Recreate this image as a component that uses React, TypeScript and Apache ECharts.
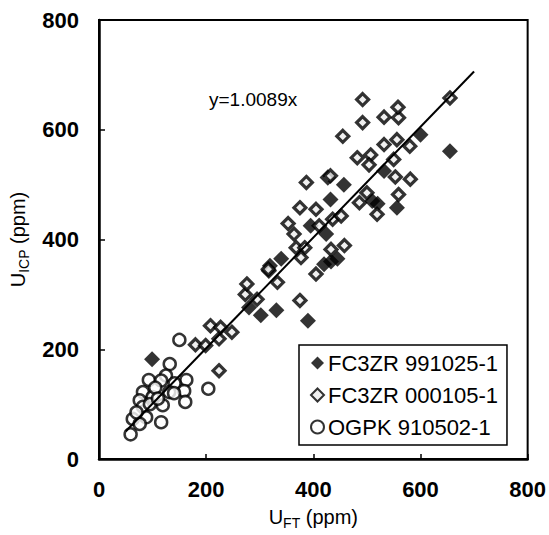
import React, { useEffect, useRef } from "react";
import * as echarts from "echarts";

const seriesNames = ["FC3ZR 991025-1", "FC3ZR 000105-1", "OGPK 910502-1"];

const fc3zr991025: number[][] = [
  [99, 182], [280, 276], [302, 262], [331, 271], [319, 352], [340, 365],
  [390, 252], [420, 355], [433, 360], [445, 365], [424, 410], [395, 425],
  [432, 473], [457, 500], [510, 470], [520, 465], [556, 458], [532, 525],
  [600, 591], [655, 561],
];

const fc3zr000105: number[][] = [
  [180, 208], [199, 207], [208, 243], [224, 219], [227, 240], [248, 231],
  [224, 161], [273, 300], [295, 291], [276, 319], [317, 343], [333, 322],
  [316, 346], [375, 289], [368, 385], [384, 385], [377, 367], [353, 429],
  [364, 410], [375, 458], [405, 455], [405, 337], [411, 425], [436, 437],
  [452, 443], [433, 382], [458, 389], [427, 513], [387, 504], [432, 516],
  [455, 588], [482, 549], [507, 554], [504, 536], [492, 655], [492, 613],
  [532, 623], [559, 622], [558, 641], [532, 573], [556, 582], [580, 570],
  [550, 546], [553, 514], [581, 510], [486, 467], [500, 485], [519, 446],
  [559, 482], [655, 658],
];

const ogpk910502: number[][] = [
  [150, 217], [132, 173], [125, 152], [93, 144], [163, 144], [116, 143],
  [141, 138], [204, 128], [159, 124], [131, 122], [82, 122], [100, 113],
  [76, 107], [161, 104], [119, 98], [82, 95], [63, 73], [116, 67],
  [88, 76], [76, 64], [59, 45], [105, 130], [95, 100], [110, 110],
  [140, 120], [70, 85],
];

const trendSlope = 1.0089;
const trendRange = [50, 700];
const trendLabel = "y=1.0089x";

const xTicks = [0, 200, 400, 600, 800];

const FONT = "'Liberation Sans', Arial, sans-serif";

export default function App() {
  const ref = useRef<HTMLDivElement>(null);
  useEffect(() => {
    if (!ref.current) return;
    const chart = echarts.init(ref.current, null, { renderer: "svg" });
    const trendData = trendRange.map((x) => [x, trendSlope * x]);
    chart.setOption({
      animation: false,
      backgroundColor: "#fff",
      textStyle: { fontFamily: FONT, color: "#000" },
      grid: {
        left: 99,
        top: 20,
        width: 433,
        height: 442,
        show: true,
        borderColor: "#000",
        borderWidth: 2,
        backgroundColor: "transparent",
      },
      xAxis: {
        type: "value",
        min: xTicks[0],
        max: xTicks[xTicks.length - 1],
        interval: 200,
        splitLine: { show: false },
        axisLine: { show: true, onZero: false, lineStyle: { color: "#000", width: 2.5 } },
        axisTick: { show: true, inside: true, length: 5, lineStyle: { color: "#000", width: 1.5 } },
        axisLabel: { color: "#000", fontSize: 22, fontWeight: "bold", fontFamily: FONT, margin: 19 },
        name: "{a|U}{b|FT}{a| (ppm)}",
        nameLocation: "middle",
        nameGap: 48,
        nameTextStyle: {
          rich: {
            a: { fontSize: 20, fontFamily: FONT, color: "#000", verticalAlign: "top" },
            b: { fontSize: 14, fontFamily: FONT, color: "#000", verticalAlign: "top", padding: [9, 0, 0, 0] },
          },
        },
      },
      yAxis: {
        type: "value",
        min: 0,
        max: 800,
        interval: 200,
        splitLine: { show: false },
        axisLine: { show: true, onZero: false, lineStyle: { color: "#000", width: 2.5 } },
        axisTick: { show: true, inside: true, length: 6, lineStyle: { color: "#000", width: 1.5 } },
        axisLabel: { color: "#000", fontSize: 22, fontWeight: "bold", fontFamily: FONT, margin: 20 },
        name: "{a|U}{b|ICP}{a| (ppm)}",
        nameLocation: "middle",
        nameGap: 66,
        nameRotate: 90,
        nameTextStyle: {
          rich: {
            a: { fontSize: 20, fontFamily: FONT, color: "#000", verticalAlign: "top" },
            b: { fontSize: 14, fontFamily: FONT, color: "#000", verticalAlign: "top", padding: [9, 0, 0, 0] },
          },
        },
      },
      legend: {
        data: seriesNames,
        orient: "vertical",
        left: 299,
        top: 345,
        borderColor: "#000",
        borderWidth: 1.5,
        padding: [7, 9, 7, 11],
        itemGap: 10,
        itemWidth: 13,
        itemHeight: 13,
        backgroundColor: "#fff",
        textStyle: { fontSize: 22, fontFamily: FONT, color: "#000", padding: [0, 0, 0, -1] },
      },
      graphic: [
        {
          type: "text",
          left: 209,
          top: 90,
          style: { text: trendLabel, font: `19px ${FONT}`, fill: "#000" },
        },
      ],
      series: [
        {
          name: seriesNames[0],
          type: "scatter",
          data: fc3zr991025,
          symbol: "diamond",
          symbolSize: 16,
          itemStyle: { color: "#000" },
        },
        {
          name: seriesNames[1],
          type: "scatter",
          data: fc3zr000105,
          symbol: "diamond",
          symbolSize: 12,
          itemStyle: { color: "#ececec", borderColor: "#000", borderWidth: 3.2 },
        },
        {
          name: seriesNames[2],
          type: "scatter",
          data: ogpk910502,
          symbol: "circle",
          symbolSize: 12,
          itemStyle: { color: "#fff", borderColor: "#000", borderWidth: 2.5 },
        },
        {
          name: "trend",
          type: "line",
          data: trendData,
          symbol: "none",
          lineStyle: { color: "#000", width: 2 },
          z: 5,
        },
      ],
    });
    return () => chart.dispose();
  }, []);
  return (
    <div
      ref={ref}
      style={{ position: "fixed", left: 0, top: 0, width: 549, height: 535, background: "#fff" }}
    />
  );
}
